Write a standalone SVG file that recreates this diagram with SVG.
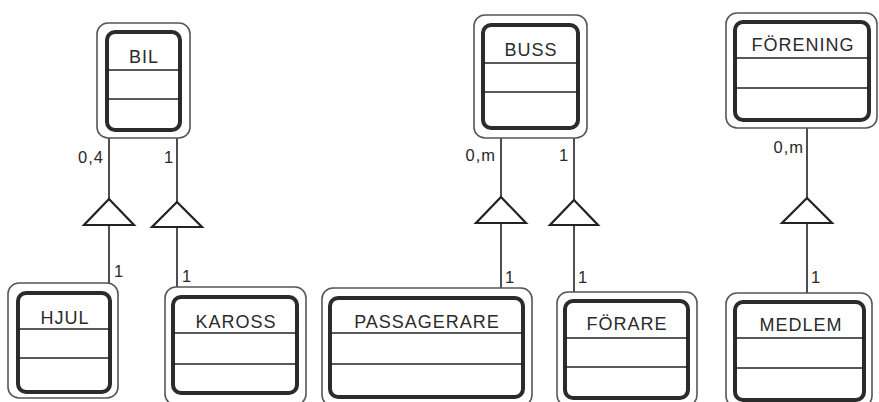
<svg xmlns="http://www.w3.org/2000/svg" width="879" height="402" viewBox="0 0 879 402">
<style>
.outer{fill:#fff;stroke:#555;stroke-width:1.6}
.inner{fill:#fff;stroke:#2b2b2b;stroke-width:4}
.div{stroke:#222;stroke-width:1.6}
.name{font-family:"Liberation Sans",Arial,sans-serif;font-size:18px;letter-spacing:1px;fill:#2a2a2a;text-anchor:middle}
.lbl{font-family:"Liberation Sans",Arial,sans-serif;font-size:16.5px;letter-spacing:1px;fill:#2a2a2a}
.ln{stroke:#222;stroke-width:1.6;fill:none}
.tri{fill:#fff;stroke:#222;stroke-width:2.2;stroke-linejoin:miter}
</style>
<rect width="879" height="402" fill="#fff"/>
<g id="connectors">
<line class="ln" x1="109" y1="138" x2="109" y2="283"/>
<polygon class="tri" points="109,199 84,225 134,225"/>
<line class="ln" x1="177" y1="138" x2="177" y2="287"/>
<polygon class="tri" points="177,202 152,227 202,227"/>
<line class="ln" x1="501" y1="138" x2="501" y2="288"/>
<polygon class="tri" points="501,197 476,223 526,223"/>
<line class="ln" x1="574" y1="138" x2="574" y2="292"/>
<polygon class="tri" points="574,200 550,225 598,225"/>
<line class="ln" x1="807" y1="128" x2="807" y2="293"/>
<polygon class="tri" points="807,198 782,223 832,223"/>
<text class="lbl" x="104" y="163" text-anchor="end">0,4</text>
<text class="lbl" x="164" y="163">1</text>
<text class="lbl" x="114" y="277">1</text>
<text class="lbl" x="182" y="282">1</text>
<text class="lbl" x="496" y="161" text-anchor="end">0,m</text>
<text class="lbl" x="559" y="161">1</text>
<text class="lbl" x="505" y="283">1</text>
<text class="lbl" x="578" y="283">1</text>
<text class="lbl" x="804" y="153" text-anchor="end">0,m</text>
<text class="lbl" x="811" y="283">1</text>
</g>
<g id="bil">
<rect class="outer" x="97" y="23" width="93" height="115" rx="11"/>
<rect class="inner" x="107" y="32" width="73" height="98" rx="8"/>
<line class="div" x1="107" y1="70" x2="180" y2="70"/>
<line class="div" x1="107" y1="99" x2="180" y2="99"/>
<text class="name" x="144" y="63">BIL</text>
</g>
<g id="buss">
<rect class="outer" x="474" y="15" width="113" height="123" rx="11"/>
<rect class="inner" x="483" y="25" width="95" height="103" rx="8"/>
<line class="div" x1="483" y1="63" x2="578" y2="63"/>
<line class="div" x1="483" y1="92" x2="578" y2="92"/>
<text class="name" x="531" y="56">BUSS</text>
</g>
<g id="forening">
<rect class="outer" x="726" y="13" width="151" height="115" rx="11"/>
<rect class="inner" x="735" y="22" width="134" height="98" rx="8"/>
<line class="div" x1="735" y1="58" x2="869" y2="58"/>
<line class="div" x1="735" y1="88" x2="869" y2="88"/>
<text class="name" x="803" y="51">FÖRENING</text>
</g>
<g id="hjul">
<rect class="outer" x="8" y="283" width="110" height="115" rx="11"/>
<rect class="inner" x="18" y="293" width="92" height="99" rx="8"/>
<line class="div" x1="18" y1="329" x2="110" y2="329"/>
<line class="div" x1="18" y1="358" x2="110" y2="358"/>
<text class="name" x="65" y="324">HJUL</text>
</g>
<g id="kaross">
<rect class="outer" x="165" y="287" width="141" height="118" rx="11"/>
<rect class="inner" x="173" y="297" width="124" height="96" rx="8"/>
<line class="div" x1="173" y1="333" x2="297" y2="333"/>
<line class="div" x1="173" y1="364" x2="297" y2="364"/>
<text class="name" x="236" y="328">KAROSS</text>
</g>
<g id="passagerare">
<rect class="outer" x="322" y="288" width="210" height="118" rx="11"/>
<rect class="inner" x="330" y="298" width="193" height="99" rx="8"/>
<line class="div" x1="330" y1="333" x2="523" y2="333"/>
<line class="div" x1="330" y1="364" x2="523" y2="364"/>
<text class="name" x="427" y="328">PASSAGERARE</text>
</g>
<g id="forare">
<rect class="outer" x="557" y="292" width="140" height="114" rx="11"/>
<rect class="inner" x="565" y="301" width="123" height="97" rx="8"/>
<line class="div" x1="565" y1="338" x2="688" y2="338"/>
<line class="div" x1="565" y1="367" x2="688" y2="367"/>
<text class="name" x="627" y="330">FÖRARE</text>
</g>
<g id="medlem">
<rect class="outer" x="726" y="293" width="146" height="114" rx="11"/>
<rect class="inner" x="735" y="302" width="129" height="98" rx="8"/>
<line class="div" x1="735" y1="338" x2="864" y2="338"/>
<line class="div" x1="735" y1="368" x2="864" y2="368"/>
<text class="name" x="801" y="331">MEDLEM</text>
</g>
</svg>
